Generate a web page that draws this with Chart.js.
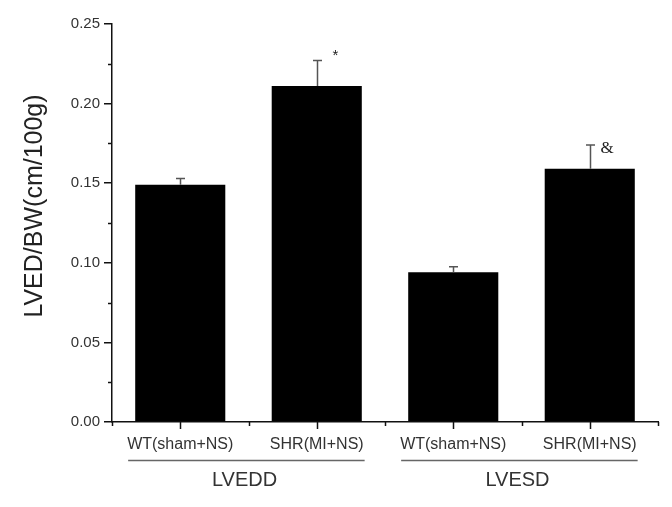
<!DOCTYPE html>
<html>
<head>
<meta charset="utf-8">
<script src="https://cdn.jsdelivr.net/npm/chart.js@4.4.0/dist/chart.umd.min.js"></script>
<style>
  html, body { margin: 0; padding: 0; background: #fff; }
  #wrap { width: 672px; height: 507px; }
</style>
</head>
<body>
<div id="wrap"><canvas id="c" width="672" height="507"></canvas></div>
<script>
// ---- data ----
const categories = ["WT(sham+NS)", "SHR(MI+NS)", "WT(sham+NS)", "SHR(MI+NS)"];
const values = [0.149, 0.211, 0.094, 0.159];
const errors = [0.004, 0.016, 0.0035, 0.015];
const marks = ["", "*", "", "&"];
const groups = ["LVEDD", "LVESD"];
const groupMembers = [[0, 1], [2, 3]];
const yTicks = [0, 0.05, 0.10, 0.15, 0.20, 0.25];
const yTitle = "LVED/BW(cm/100g)";

const FONT = "'Liberation Sans', Arial, sans-serif";

const overlay = {
  id: "overlay",
  afterDraw(chart) {
    const ctx = chart.ctx;
    const x = chart.scales.x, y = chart.scales.y;
    const area = chart.chartArea;
    ctx.save();
    // y minor ticks
    ctx.strokeStyle = "#111";
    ctx.lineWidth = 1.5;
    for (let i = 0; i < yTicks.length - 1; i++) {
      const v = (yTicks[i] + yTicks[i + 1]) / 2;
      const py = Math.round(y.getPixelForValue(v)) + 0.5;
      ctx.beginPath();
      ctx.moveTo(area.left - 4, py);
      ctx.lineTo(area.left, py);
      ctx.stroke();
    }
    // x ticks: major at centres, minor at boundaries
    const by = area.bottom;
    const half = (x.getPixelForValue(1) - x.getPixelForValue(0)) / 2;
    for (let i = 0; i < categories.length; i++) {
      const cx = Math.round(x.getPixelForValue(i)) + 0.5;
      ctx.beginPath();
      ctx.moveTo(cx, by);
      ctx.lineTo(cx, by + 7);
      ctx.stroke();
    }
    for (let i = 0; i <= categories.length; i++) {
      const bx = Math.round(x.getPixelForValue(i) - half) + 0.5;
      ctx.beginPath();
      ctx.moveTo(bx, by);
      ctx.lineTo(bx, by + 4);
      ctx.stroke();
    }
    // error bars
    ctx.strokeStyle = "#555";
    ctx.lineWidth = 1.5;
    for (let i = 0; i < values.length; i++) {
      const cx = Math.round(x.getPixelForValue(i)) + 0.5;
      const y0 = y.getPixelForValue(values[i]);
      const y1 = y.getPixelForValue(values[i] + errors[i]);
      ctx.beginPath();
      ctx.moveTo(cx, y0);
      ctx.lineTo(cx, y1);
      ctx.moveTo(cx - 4.5, y1);
      ctx.lineTo(cx + 4.5, y1);
      ctx.stroke();
      if (marks[i]) {
        ctx.fillStyle = "#222";
        ctx.textAlign = "center";
        ctx.textBaseline = "middle";
        if (marks[i] === "*") {
          ctx.font = "15px " + FONT;
          ctx.fillText(marks[i], cx + 18, y1 - 5);
        } else {
          ctx.font = "17px 'Liberation Serif', 'Times New Roman', serif";
          ctx.fillText(marks[i], cx + 16.5, y1 + 4);
        }
      }
    }
    // group lines and labels
    ctx.font = "16px " + FONT;
    for (let g = 0; g < groups.length; g++) {
      const [a, b] = groupMembers[g];
      const xa = x.getPixelForValue(a), xb = x.getPixelForValue(b);
      const wa = ctx.measureText(categories[a]).width;
      const wb = ctx.measureText(categories[b]).width;
      ctx.strokeStyle = "#666";
      ctx.lineWidth = 1.5;
      ctx.beginPath();
      ctx.moveTo(xa - wa / 2 + 1, by + 38.5);
      ctx.lineTo(xb + wb / 2 + 1, by + 38.5);
      ctx.stroke();
    }
    ctx.fillStyle = "#333";
    ctx.font = "20px " + FONT;
    ctx.textAlign = "center";
    ctx.textBaseline = "middle";
    for (let g = 0; g < groups.length; g++) {
      const [a, b] = groupMembers[g];
      const cx = (x.getPixelForValue(a) + x.getPixelForValue(b)) / 2;
      ctx.fillText(groups[g], cx - 4, by + 58);
    }
    // y title
    ctx.font = "25px " + FONT;
    ctx.fillStyle = "#222";
    ctx.translate(35, (area.top + area.bottom) / 2 - 17);
    ctx.rotate(-Math.PI / 2);
    ctx.fillText(yTitle, 0, 0);
    ctx.restore();
  }
};

new Chart(document.getElementById("c"), {
  type: "bar",
  data: {
    labels: categories,
    datasets: [{
      data: values,
      backgroundColor: "#000",
      borderWidth: 0,
      barPercentage: 0.66,
      categoryPercentage: 1
    }]
  },
  options: {
    responsive: false,
    animation: false,
    events: [],
    layout: { padding: { top: 24, right: 14, left: 0, bottom: 0 } },
    plugins: { legend: { display: false }, tooltip: { enabled: false }, title: { display: false } },
    scales: {
      x: {
        afterFit(s) { s.height = 85; },
        grid: { display: false },
        border: { display: true, color: "#111", width: 1.5 },
        ticks: {
          color: "#333",
          font: { family: FONT, size: 16 },
          padding: 5,
          maxRotation: 0,
          autoSkip: false
        }
      },
      y: {
        min: 0,
        max: 0.25,
        afterFit(s) { s.width = 112; },
        afterBuildTicks(s) { s.ticks = yTicks.map(v => ({ value: v })); },
        grid: { drawOnChartArea: false, drawTicks: true, tickLength: 8, color: "#111", lineWidth: 1.5 },
        border: { display: true, color: "#111", width: 1.5 },
        ticks: {
          color: "#333",
          font: { family: FONT, size: 15 },
          padding: 4,
          callback: v => Number(v).toFixed(2)
        }
      }
    }
  },
  plugins: [overlay]
});
</script>
</body>
</html>
